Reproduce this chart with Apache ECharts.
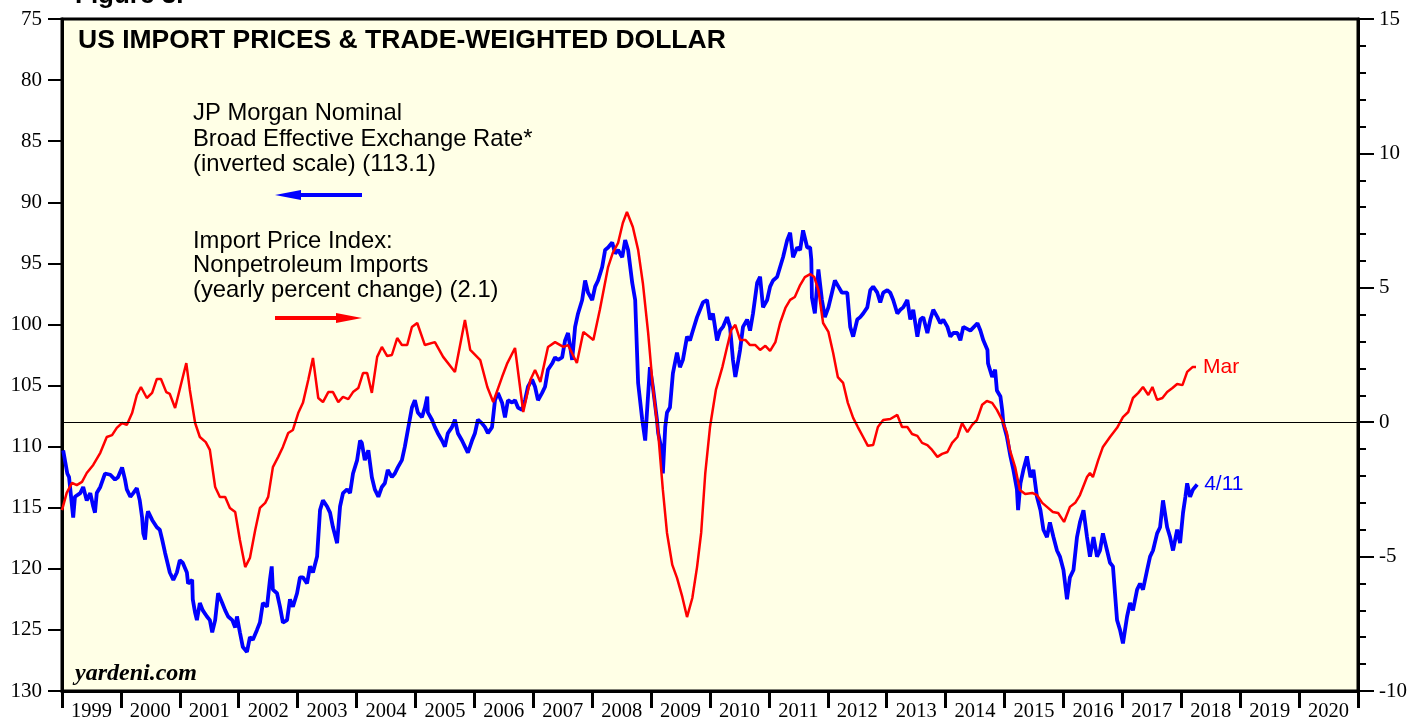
<!DOCTYPE html>
<html>
<head>
<meta charset="utf-8">
<script src="https://cdn.jsdelivr.net/npm/echarts@6/dist/echarts.min.js"></script>
<style>
  html, body { margin: 0; padding: 0; background: #fff; }
  #chart { width: 1411px; height: 719px; }
</style>
</head>
<body>
<div id="chart"></div>
<script>
// year labels on the bottom axis
const years = ['1999', '2000', '2001', '2002', '2003', '2004', '2005', '2006', '2007', '2008', '2009',
    '2010', '2011', '2012', '2013', '2014', '2015', '2016', '2017', '2018', '2019', '2020'];

// JP Morgan broad effective exchange rate (left axis, inverted)
const dollarDates = [
    1999.02, 1999.09, 1999.12, 1999.19, 1999.22, 1999.31, 1999.36, 1999.42, 1999.48, 1999.53, 1999.56, 1999.59, 1999.65, 1999.73, 1999.82, 1999.90, 1999.95,
    2000.02, 2000.07, 2000.10, 2000.16, 2000.21, 2000.27, 2000.32, 2000.36, 2000.38, 2000.41, 2000.44, 2000.46, 2000.53, 2000.61, 2000.66, 2000.70, 2000.75, 2000.78, 2000.83, 2000.89, 2000.95,
    2001.00, 2001.05, 2001.12, 2001.14, 2001.21, 2001.22, 2001.26, 2001.29, 2001.34, 2001.39, 2001.46, 2001.51, 2001.55, 2001.60, 2001.65, 2001.72, 2001.77, 2001.82, 2001.89, 2001.94, 2001.97,
    2002.02, 2002.07, 2002.14, 2002.19, 2002.24, 2002.31, 2002.36, 2002.41, 2002.48, 2002.53, 2002.56, 2002.58, 2002.65, 2002.70, 2002.75, 2002.82, 2002.87, 2002.92, 2002.99,
    2003.04, 2003.09, 2003.16, 2003.21, 2003.26, 2003.33, 2003.38, 2003.43, 2003.50, 2003.55, 2003.60, 2003.67, 2003.72, 2003.77, 2003.84, 2003.89, 2003.94,
    2004.01, 2004.06, 2004.09, 2004.14, 2004.20, 2004.26, 2004.31, 2004.37, 2004.43, 2004.48, 2004.53, 2004.60, 2004.65, 2004.70, 2004.77, 2004.82, 2004.88, 2004.94, 2004.99,
    2005.04, 2005.11, 2005.16, 2005.20, 2005.21, 2005.28, 2005.33, 2005.38, 2005.45, 2005.50, 2005.55, 2005.62, 2005.67, 2005.72, 2005.79, 2005.84, 2005.89, 2005.96,
    2006.01, 2006.06, 2006.13, 2006.18, 2006.23, 2006.30, 2006.35, 2006.40, 2006.47, 2006.52, 2006.57, 2006.64, 2006.69, 2006.74, 2006.81, 2006.86, 2006.91, 2006.98,
    2007.03, 2007.08, 2007.15, 2007.20, 2007.25, 2007.32, 2007.37, 2007.42, 2007.49, 2007.54, 2007.59, 2007.66, 2007.71, 2007.76, 2007.83, 2007.88, 2007.93, 2008.00,
    2008.05, 2008.10, 2008.17, 2008.22, 2008.27, 2008.34, 2008.39, 2008.44, 2008.51, 2008.56, 2008.61, 2008.68, 2008.73, 2008.78, 2008.85, 2008.90, 2008.93, 2008.98,
    2009.03, 2009.10, 2009.12, 2009.19, 2009.20, 2009.24, 2009.27, 2009.32, 2009.37, 2009.44, 2009.49, 2009.54, 2009.61, 2009.66, 2009.71, 2009.78, 2009.83, 2009.88, 2009.95,
    2010.00, 2010.05, 2010.12, 2010.17, 2010.22, 2010.29, 2010.34, 2010.39, 2010.43, 2010.46, 2010.51, 2010.56, 2010.63, 2010.68, 2010.73, 2010.80, 2010.85, 2010.90, 2010.97,
    2011.02, 2011.07, 2011.14, 2011.19, 2011.24, 2011.31, 2011.36, 2011.41, 2011.48, 2011.53, 2011.58, 2011.65, 2011.70, 2011.72, 2011.73, 2011.78, 2011.84, 2011.90, 2011.95,
    2012.01, 2012.07, 2012.12, 2012.18, 2012.24, 2012.33, 2012.38, 2012.43, 2012.50, 2012.55, 2012.60, 2012.67, 2012.72, 2012.77, 2012.84, 2012.89, 2012.94,
    2013.01, 2013.06, 2013.11, 2013.18, 2013.23, 2013.28, 2013.35, 2013.40, 2013.45, 2013.52, 2013.57, 2013.62, 2013.69, 2013.74, 2013.79, 2013.86, 2013.91, 2013.96,
    2014.03, 2014.08, 2014.13, 2014.20, 2014.25, 2014.30, 2014.42, 2014.54, 2014.59, 2014.64, 2014.71, 2014.72, 2014.79, 2014.84, 2014.87, 2014.93, 2014.96, 2014.98,
    2015.04, 2015.10, 2015.15, 2015.21, 2015.23, 2015.27, 2015.32, 2015.38, 2015.44, 2015.49, 2015.55, 2015.61, 2015.66, 2015.72, 2015.77, 2015.83, 2015.89, 2015.94, 2016.00,
    2016.06, 2016.11, 2016.17, 2016.23, 2016.28, 2016.34, 2016.40, 2016.45, 2016.51, 2016.57, 2016.62, 2016.67, 2016.74, 2016.79, 2016.84, 2016.91, 2016.96,
    2017.01, 2017.08, 2017.13, 2017.18, 2017.25, 2017.30, 2017.35, 2017.42, 2017.47, 2017.52, 2017.59, 2017.64, 2017.69, 2017.76, 2017.81, 2017.86, 2017.93, 2017.98,
    2018.03, 2018.07, 2018.10, 2018.15, 2018.20, 2018.27
];
const dollarValues = [
    110.3, 112.2, 112.5, 115.8, 114.1, 113.8, 113.3, 114.4, 113.8, 114.9, 115.4, 113.8, 113.3, 112.2, 112.3, 112.7, 112.5,
    111.7, 112.7, 113.5, 114.1, 113.8, 113.4, 114.4, 115.8, 117.1, 117.6, 115.8, 115.3, 116.0, 116.6, 116.8, 117.6, 118.7, 119.3, 120.3, 120.9, 120.3,
    119.3, 119.5, 120.3, 121.2, 120.9, 122.5, 123.6, 124.2, 122.8, 123.4, 123.9, 124.2, 125.2, 124.2, 122.0, 122.8, 123.4, 123.9, 124.2, 124.8, 123.9,
    125.2, 126.4, 126.8, 125.6, 125.8, 125.0, 124.4, 122.8, 123.1, 120.9, 119.8, 121.7, 122.0, 123.1, 124.4, 124.2, 122.5, 123.1, 122.0,
    120.7, 120.7, 121.2, 119.8, 120.3, 119.0, 115.2, 114.4, 114.9, 115.4, 116.6, 117.9, 114.9, 113.8, 113.5, 113.8, 112.2,
    111.1, 109.5, 109.7, 111.1, 110.3, 112.5, 113.5, 114.1, 113.3, 113.0, 111.9, 112.5, 112.2, 111.7, 111.1, 110.0, 108.4, 106.8, 106.2,
    107.2, 107.6, 106.8, 105.9, 107.2, 107.8, 108.4, 108.9, 109.5, 110.0, 108.9, 108.4, 107.8, 108.9, 109.5, 110.0, 110.5, 109.5,
    108.9, 107.8, 108.1, 108.4, 108.9, 108.4, 106.2, 105.6, 106.4, 107.6, 106.2, 106.4, 106.2, 106.8, 107.0, 106.2, 105.1, 104.5,
    105.1, 106.2, 105.6, 105.1, 103.7, 103.2, 102.7, 102.9, 102.7, 101.3, 100.7, 102.9, 100.2, 99.1, 98.0, 96.4, 97.4, 98.0,
    96.9, 96.4, 95.3, 93.9, 93.7, 93.3, 94.2, 93.9, 94.5, 93.1, 93.9, 96.6, 98.0, 104.8, 107.8, 109.5, 107.2, 103.5,
    105.1, 107.8, 108.9, 110.5, 112.2, 108.4, 107.2, 106.8, 104.0, 102.3, 103.5, 102.9, 101.0, 101.3, 100.5, 99.4, 98.8, 98.2, 98.0,
    99.6, 99.1, 101.3, 100.5, 100.2, 99.4, 100.2, 102.9, 104.3, 103.5, 102.1, 100.2, 99.6, 100.5, 99.1, 96.6, 96.1, 98.6, 98.0,
    96.9, 96.4, 96.1, 95.3, 94.5, 93.1, 92.5, 94.5, 93.7, 93.9, 92.3, 93.7, 93.7, 94.7, 97.8, 99.1, 95.5, 98.0, 99.4,
    98.6, 97.4, 96.4, 96.9, 97.4, 97.4, 100.2, 101.0, 99.6, 99.4, 99.1, 98.6, 97.2, 96.9, 97.4, 98.2, 97.4,
    97.2, 97.4, 98.0, 99.1, 98.8, 98.6, 98.0, 99.6, 98.8, 101.0, 99.6, 99.4, 100.7, 99.6, 98.8, 99.4, 99.9, 99.6,
    100.2, 101.0, 100.7, 100.7, 101.3, 100.2, 100.5, 99.9, 100.5, 101.3, 102.1, 103.2, 104.3, 103.7, 105.4, 105.9, 107.0, 108.1,
    109.2, 110.8, 111.9, 113.5, 115.2, 113.0, 111.9, 110.8, 112.5, 111.9, 114.1, 115.2, 116.8, 117.4, 116.2, 117.4, 118.5, 119.0, 120.1,
    122.5, 120.7, 120.1, 117.4, 116.2, 115.2, 117.4, 119.0, 117.4, 119.0, 118.5, 117.1, 118.5, 119.5, 119.8, 124.2, 125.0,
    126.1, 123.9, 122.8, 123.4, 121.7, 121.2, 121.7, 120.1, 119.0, 118.5, 117.1, 116.6, 114.4, 116.6, 117.4, 118.5, 116.8, 117.9,
    115.4, 114.1, 113.0, 114.1, 113.5, 113.1
];

// import price index, nonpetroleum imports, y/y % (right axis)
const importDates = [
    1999.00, 1999.08, 1999.17, 1999.25, 1999.34, 1999.42, 1999.53, 1999.65, 1999.76, 1999.85, 1999.93,
    2000.02, 2000.10, 2000.19, 2000.27, 2000.34, 2000.44, 2000.53, 2000.61, 2000.68, 2000.77, 2000.83, 2000.92,
    2001.11, 2001.17, 2001.26, 2001.34, 2001.44, 2001.51, 2001.60, 2001.68, 2001.77, 2001.85, 2001.94,
    2002.02, 2002.11, 2002.19, 2002.28, 2002.36, 2002.45, 2002.50, 2002.58, 2002.67, 2002.75, 2002.84, 2002.92,
    2003.01, 2003.09, 2003.18, 2003.26, 2003.35, 2003.43, 2003.52, 2003.60, 2003.69, 2003.77, 2003.86, 2003.94,
    2004.03, 2004.11, 2004.18, 2004.26, 2004.35, 2004.43, 2004.52, 2004.60, 2004.69, 2004.77, 2004.86, 2004.94,
    2005.03, 2005.16, 2005.33, 2005.47, 2005.67, 2005.84, 2005.93,
    2006.10, 2006.22, 2006.32, 2006.47, 2006.56, 2006.69, 2006.83, 2006.95,
    2007.03, 2007.12, 2007.25, 2007.37, 2007.51, 2007.59, 2007.74, 2007.85,
    2008.02, 2008.13, 2008.27, 2008.35, 2008.44, 2008.52, 2008.59, 2008.69, 2008.78, 2008.86, 2008.95,
    2009.03, 2009.12, 2009.20, 2009.27, 2009.36, 2009.44, 2009.53, 2009.61, 2009.70, 2009.78, 2009.85, 2009.92,
    2010.00, 2010.10, 2010.21, 2010.29, 2010.36, 2010.43, 2010.51, 2010.60, 2010.68, 2010.77, 2010.85, 2010.94,
    2011.02, 2011.11, 2011.19, 2011.28, 2011.36, 2011.44, 2011.53, 2011.61, 2011.70, 2011.77, 2011.84, 2011.92,
    2012.01, 2012.09, 2012.17, 2012.26, 2012.34, 2012.43, 2012.51, 2012.60, 2012.68, 2012.77, 2012.85, 2012.94,
    2013.06, 2013.18, 2013.26, 2013.35, 2013.43, 2013.52, 2013.60, 2013.69, 2013.77, 2013.86, 2013.94,
    2014.03, 2014.11, 2014.20, 2014.28, 2014.37, 2014.45, 2014.53, 2014.62, 2014.70, 2014.79, 2014.87, 2014.96,
    2015.04, 2015.09, 2015.18, 2015.26, 2015.35, 2015.47, 2015.55, 2015.64, 2015.72, 2015.82, 2015.91,
    2016.01, 2016.11, 2016.20, 2016.28, 2016.40, 2016.45, 2016.50, 2016.59, 2016.67, 2016.79, 2016.91,
    2017.01, 2017.10, 2017.18, 2017.27, 2017.35, 2017.44, 2017.51, 2017.59, 2017.68, 2017.76, 2017.85, 2017.93,
    2018.02, 2018.10, 2018.19, 2018.25
];
const importValues = [
    -3.27, -2.63, -2.26, -2.34, -2.22, -1.89, -1.59, -1.14, -0.55, -0.48, -0.21,
    -0.03, -0.10, 0.34, 1.01, 1.31, 0.90, 1.09, 1.61, 1.61, 1.12, 1.05, 0.53,
    2.20, 1.20, -0.03, -0.55, -0.74, -1.03, -2.41, -2.78, -2.78, -3.19, -3.34,
    -4.38, -5.39, -5.05, -4.01, -3.19, -3.00, -2.78, -1.67, -1.29, -0.92, -0.40, -0.29,
    0.34, 0.72, 1.57, 2.39, 0.90, 0.75, 1.12, 1.12, 0.75, 0.94, 0.86, 1.12,
    1.27, 1.83, 1.83, 1.09, 2.43, 2.80, 2.46, 2.50, 3.13, 2.87, 2.87, 3.54,
    3.69, 2.87, 2.98, 2.43, 1.87, 3.80, 2.69,
    2.31, 1.31, 0.75, 1.68, 2.20, 2.76, 0.38, 1.57,
    1.94, 1.50, 2.80, 2.98, 2.80, 2.87, 2.20, 3.36,
    3.06, 4.18, 5.77, 6.30, 6.67, 7.41, 7.82, 7.26, 6.41, 5.18, 3.32,
    1.31, -0.40, -2.52, -4.12, -5.31, -5.79, -6.50, -7.25, -6.54, -5.39, -4.12, -1.89,
    -0.18, 1.20, 2.05, 2.80, 3.43, 3.62, 3.06, 3.06, 2.87, 2.87, 2.69, 2.84,
    2.65, 2.98, 3.69, 4.25, 4.55, 4.66, 5.10, 5.40, 5.51, 5.40, 4.92, 3.69,
    3.36, 2.58, 1.68, 1.46, 0.72, 0.16, -0.18, -0.55, -0.88, -0.85, -0.18, 0.08,
    0.12, 0.27, -0.18, -0.18, -0.44, -0.51, -0.77, -0.85, -1.03, -1.29, -1.18,
    -1.11, -0.77, -0.55, -0.03, -0.37, -0.10, 0.08, 0.65, 0.79, 0.72, 0.46, 0.08,
    -0.40, -1.03, -1.67, -2.52, -2.67, -2.63, -2.71, -3.00, -3.15, -3.34, -3.38,
    -3.71, -3.15, -3.00, -2.71, -2.04, -1.89, -2.04, -1.41, -0.92, -0.55, -0.21,
    0.19, 0.38, 0.90, 1.09, 1.31, 1.01, 1.31, 0.83, 0.90, 1.12, 1.27, 1.42,
    1.38, 1.87, 2.05, 2.05
];

const dollarData = dollarDates.map((d, i) => [d, dollarValues[i]]);
const importData = importDates.map((d, i) => [d, importValues[i]]);

const serif = 'Liberation Serif, Times New Roman, serif';
const sans = 'Liberation Sans, Arial, Helvetica, sans-serif';
const BLUE = '#0000ff';
const RED = '#ff0000';

const chart = echarts.init(document.getElementById('chart'));

// arrow next to the legend text
const arrow = (y, color, toLeft) => {
    const x0 = 275, x1 = 362;
    const tip = toLeft ? x0 : x1;
    const dir = toLeft ? 1 : -1;
    return [
        {
            type: 'line',
            shape: { x1: toLeft ? x0 + 14 : x0, y1: y, x2: toLeft ? x1 : x1 - 14, y2: y },
            style: { stroke: color, lineWidth: 4 },
            z: 10
        },
        {
            type: 'polygon',
            shape: { points: [[tip, y], [tip + dir * 26, y - 5], [tip + dir * 26, y + 5]] },
            style: { fill: color },
            z: 10
        }
    ];
};

const option = {
    animation: false,
    backgroundColor: '#ffffff',
    grid: {
        left: 62,
        right: 53,
        top: 19,
        bottom: 28,
        outerBoundsMode: 'none',
        show: true,
        backgroundColor: '#ffffe6',
        borderColor: '#000',
        borderWidth: 3
    },
    xAxis: [
        {
            type: 'value',
            min: 1999,
            max: 2021,
            show: false
        },
        {
            type: 'category',
            data: years,
            position: 'bottom',
            boundaryGap: true,
            axisLine: { show: true, lineStyle: { color: '#000', width: 3 } },
            axisTick: { show: true, interval: 0, length: 17, lineStyle: { color: '#000', width: 3 } },
            axisLabel: { interval: 0, margin: 10, color: '#000', fontFamily: serif, fontSize: 20.5 },
            splitLine: { show: false }
        }
    ],
    yAxis: [
        {
            type: 'value',
            inverse: true,
            min: 75,
            max: 130,
            interval: 5,
            position: 'left',
            axisLine: { show: true, lineStyle: { color: '#000', width: 3 } },
            axisTick: { show: true, length: 14, lineStyle: { color: '#000', width: 2 } },
            axisLabel: { margin: 20, color: '#000', fontFamily: serif, fontSize: 21 },
            splitLine: { show: false }
        },
        {
            type: 'value',
            min: -10,
            max: 15,
            interval: 5,
            position: 'right',
            axisLine: { show: true, lineStyle: { color: '#000', width: 3 } },
            axisTick: { show: true, length: 16, lineStyle: { color: '#000', width: 2 } },
            minorTick: { show: true, splitNumber: 5, length: 8, lineStyle: { color: '#000', width: 2 } },
            axisLabel: { margin: 21, color: '#000', fontFamily: serif, fontSize: 21 },
            splitLine: { show: false }
        }
    ],
    series: [
        {
            name: 'Import Price Index',
            type: 'line',
            xAxisIndex: 0,
            yAxisIndex: 1,
            data: importData,
            showSymbol: false,
            lineStyle: { color: RED, width: 2.5 },
            endLabel: {
                show: true,
                formatter: 'Mar',
                color: RED,
                fontFamily: sans,
                fontSize: 21,
                distance: 7
            },
            markLine: {
                silent: true,
                symbol: 'none',
                label: { show: false },
                lineStyle: { color: '#000', width: 1, type: 'solid' },
                data: [{ yAxis: 0 }]
            },
            z: 3
        },
        {
            name: 'JP Morgan Nominal Broad Effective Exchange Rate',
            type: 'line',
            xAxisIndex: 0,
            yAxisIndex: 0,
            data: dollarData,
            showSymbol: false,
            lineStyle: { color: BLUE, width: 3.8 },
            endLabel: {
                show: true,
                formatter: '4/11',
                color: BLUE,
                fontFamily: sans,
                fontSize: 21,
                distance: 7
            },
            z: 2
        }
    ],
    graphic: [
        {
            type: 'text', left: 75, top: -17, z: 20,
            style: { text: 'Figure 3.', font: 'bold 26px ' + sans, fill: '#000' }
        },
        {
            type: 'text', left: 78, top: 27, z: 20,
            style: { text: 'US IMPORT PRICES & TRADE-WEIGHTED DOLLAR', font: 'bold 26.5px ' + sans, fill: '#000' }
        },
        {
            type: 'text', left: 193, top: 101, z: 20,
            style: {
                text: 'JP Morgan Nominal\nBroad Effective Exchange Rate*\n(inverted scale) (113.1)',
                font: '23.8px ' + sans, fill: '#000', lineHeight: 25.5
            }
        },
        {
            type: 'text', left: 193, top: 229, z: 20,
            style: {
                text: 'Import Price Index:\nNonpetroleum Imports\n(yearly percent change) (2.1)',
                font: '23.8px ' + sans, fill: '#000', lineHeight: 24.5
            }
        },
        ...arrow(195, BLUE, true),
        ...arrow(318, RED, false),
        {
            type: 'text', left: 75, top: 662, z: 20,
            style: { text: 'yardeni.com', font: 'italic bold 24px ' + serif, fill: '#000' }
        }
    ]
};

chart.setOption(option);

window.addEventListener('resize', () => {
    chart.resize();
});
</script>
</body>
</html>
